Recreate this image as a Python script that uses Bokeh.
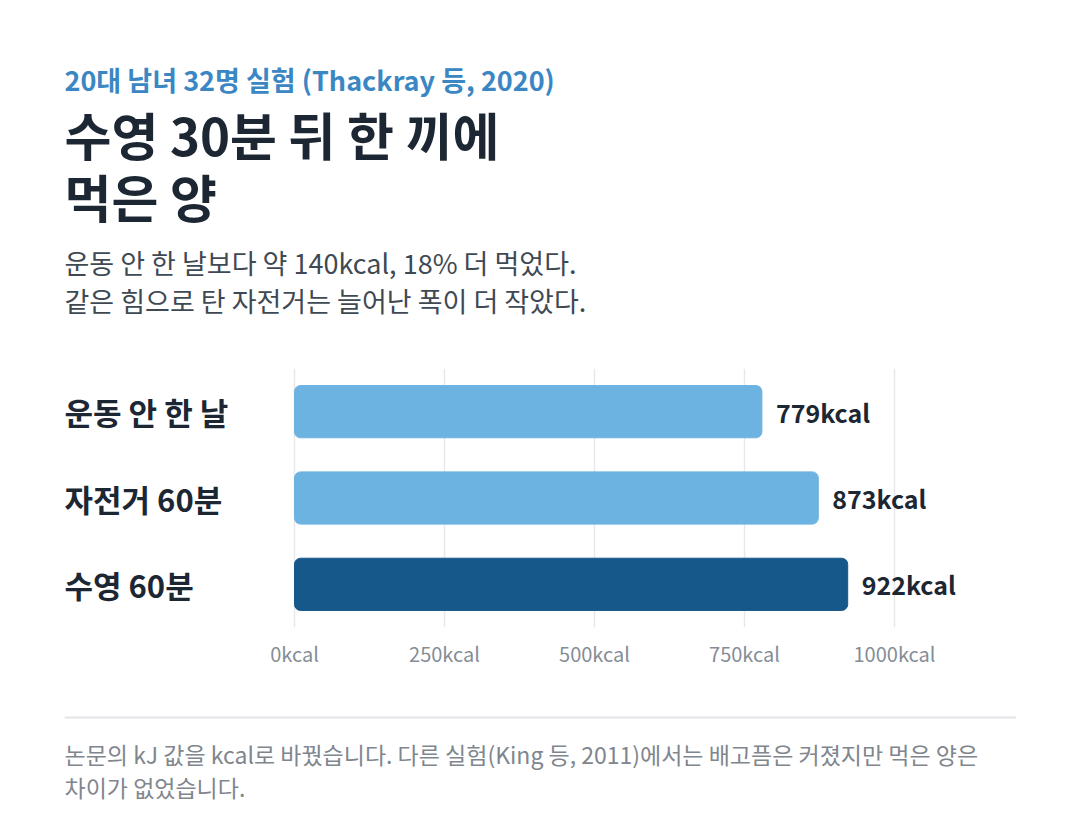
from bokeh.plotting import figure
from bokeh.layouts import column
from bokeh.models import FixedTicker, ColumnDataSource, Range1d, FactorRange
from bokeh.core.properties import value
from bokeh.embed import file_html
from bokeh.resources import INLINE

FONT = "Noto Sans CJK KR"

categories = ["운동 안 한 날", "자전거 60분", "수영 60분"]
kcal = [779, 873, 922]
bar_colors = ["#6db3e2", "#6db3e2", "#17588a"]
value_labels = ["779kcal", "873kcal", "922kcal"]
tick_values = [0, 250, 500, 750, 1000]
tick_labels = ["0kcal", "250kcal", "500kcal", "750kcal", "1000kcal"]

eyebrow = "20대 남녀 32명 실험 (Thackray 등, 2020)"
title_lines = ["수영 30분 뒤 한 끼에", "먹은 양"]
desc_lines = ["운동 안 한 날보다 약 140kcal, 18% 더 먹었다.",
              "같은 힘으로 탄 자전거는 늘어난 폭이 더 작았다."]
foot_lines = ["논문의 kJ 값을 kcal로 바꿨습니다. 다른 실험(King 등, 2011)에서는 배고픔은 커졌지만 먹은 양은",
              "차이가 없었습니다."]

W = 1072
LEFT, RIGHT = 64, 1016
HEAD_H, CHART_H, FOOT_H = 360, 340, 126


def blank(h):
    f = figure(width=W, height=h, output_backend="svg", toolbar_location=None,
               x_range=Range1d(LEFT, RIGHT), y_range=Range1d(h, 0),
               min_border_left=LEFT, min_border_right=W - RIGHT,
               min_border_top=0, min_border_bottom=0)
    f.axis.visible = False
    f.grid.visible = False
    f.outline_line_color = None
    f.background_fill_color = "white"
    f.border_fill_color = "white"
    return f


def txt(f, x, y, s, size, color, bold=False):
    f.text(x=[x], y=[y], text=[s], text_font=value(FONT), text_font_size=size,
           text_color=color, text_font_style="bold" if bold else "normal",
           text_baseline="middle", text_align="left")


# ---------- header ----------
head = blank(HEAD_H)
txt(head, 64, 79, eyebrow, "27px", "#3a87c4", bold=True)
txt(head, 64, 133, title_lines[0], "51px", "#1c2733", bold=True)
txt(head, 64, 195, title_lines[1], "51px", "#1c2733", bold=True)
txt(head, 64, 262, desc_lines[0], "27px", "#3f4953")
txt(head, 64, 300, desc_lines[1], "27px", "#3f4953")

# ---------- chart ----------
FT = 8
FB = CHART_H - FT - (627 - 368)
px_per_unit = 0.6
x_start = -(294 - LEFT) / px_per_unit
x_end = x_start + (RIGHT - LEFT) / px_per_unit

src = ColumnDataSource(dict(cat=categories, kcal=kcal, color=bar_colors,
                            vlabel=value_labels, x0=[x_start] * 3))

p = figure(width=W, height=CHART_H, output_backend="svg", toolbar_location=None,
           x_range=Range1d(x_start, x_end),
           y_range=FactorRange(factors=categories[::-1], range_padding=0),
           min_border_left=LEFT, min_border_right=W - RIGHT,
           min_border_top=FT, min_border_bottom=FB)
p.outline_line_color = None
p.background_fill_color = "white"
p.border_fill_color = "white"

p.yaxis.visible = False
p.ygrid.grid_line_color = None
p.xgrid.ticker = FixedTicker(ticks=tick_values)
p.xgrid.grid_line_color = "#e6e9ec"
p.xgrid.grid_line_width = 1.5

xa = p.xaxis[0]
xa.ticker = FixedTicker(ticks=tick_values)
xa.major_label_overrides = {v: l for v, l in zip(tick_values, tick_labels)}
xa.axis_line_color = None
xa.major_tick_line_color = None
xa.minor_tick_line_color = None
xa.major_tick_out = 0
xa.major_tick_in = 0
xa.major_label_standoff = 11
xa.major_label_text_font = FONT
xa.major_label_text_font_size = "20px"
xa.major_label_text_color = "#858d96"

p.hbar(y="cat", left=0, right="kcal", height=0.605, color="color", source=src,
       border_radius=6)

p.text(x="kcal", y="cat", text="vlabel", source=src, x_offset=14,
       text_font=value(FONT), text_font_style="bold", text_font_size="25px",
       text_color="#1c2733", text_baseline="middle", text_align="left")
p.text(x="x0", y="cat", text="cat", source=src,
       text_font=value(FONT), text_font_style="bold", text_font_size="31px",
       text_color="#1c2733", text_baseline="middle", text_align="left")

# ---------- footer ----------
Y0 = HEAD_H + CHART_H
foot = blank(FOOT_H)
foot.segment(x0=[LEFT], x1=[RIGHT], y0=[717 - Y0], y1=[717 - Y0], line_color="#e1e4e8", line_width=2)
txt(foot, 64, 753 - Y0, foot_lines[0], "23px", "#80868e")
txt(foot, 64, 786 - Y0, foot_lines[1], "23px", "#80868e")

layout = column(head, p, foot, spacing=0)
open("out.html", "w").write(file_html(layout, INLINE))
